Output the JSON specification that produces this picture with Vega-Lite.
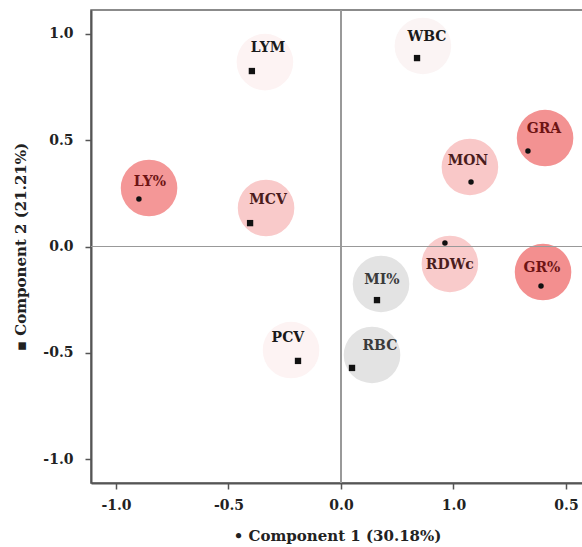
{
  "$schema": "https://vega.github.io/schema/vega-lite/v6.json",
  "width": 492,
  "height": 473,
  "autosize": {"type": "none"},
  "padding": {"left": 91, "top": 10, "right": 0, "bottom": 64},
  "background": "white",
  "config": {
    "view": {"stroke": "#666666", "strokeWidth": 1.5},
    "font": "DejaVu Serif",
    "axis": {
      "grid": false,
      "domainColor": "#555555",
      "domainWidth": 2,
      "tickColor": "#555555",
      "tickWidth": 1.5,
      "tickSize": 6,
      "labelFont": "DejaVu Serif",
      "labelFontWeight": "bold",
      "labelFontSize": 14,
      "labelColor": "#222222",
      "titleFont": "DejaVu Serif",
      "titleFontWeight": "bold",
      "titleFontSize": 15,
      "titleColor": "#222222"
    }
  },
  "data": {
    "values": [
      {"name": "LY%", "kind": "dot", "x": -0.898, "y": 0.223, "lx": -0.849, "ly": 0.303, "cx": -0.853, "cy": 0.275},
      {"name": "MCV", "kind": "square", "x": -0.404, "y": 0.110, "lx": -0.324, "ly": 0.219, "cx": -0.333, "cy": 0.181},
      {"name": "LYM", "kind": "square", "x": -0.396, "y": 0.825, "lx": -0.324, "ly": 0.933, "cx": -0.338, "cy": 0.867},
      {"name": "WBC", "kind": "square", "x": 0.338, "y": 0.886, "lx": 0.382, "ly": 0.985, "cx": 0.364, "cy": 0.943},
      {"name": "GRA", "kind": "dot", "x": 0.831, "y": 0.449, "lx": 0.902, "ly": 0.552, "cx": 0.907, "cy": 0.510},
      {"name": "MON", "kind": "dot", "x": 0.578, "y": 0.303, "lx": 0.564, "ly": 0.402, "cx": 0.573, "cy": 0.374},
      {"name": "RDWc", "kind": "dot", "x": 0.462, "y": 0.016, "lx": 0.484, "ly": -0.087, "cx": 0.484, "cy": -0.082},
      {"name": "GR%", "kind": "dot", "x": 0.889, "y": -0.186, "lx": 0.893, "ly": -0.101, "cx": 0.898, "cy": -0.120},
      {"name": "MI%", "kind": "square", "x": 0.160, "y": -0.252, "lx": 0.182, "ly": -0.157, "cx": 0.178, "cy": -0.176},
      {"name": "RBC", "kind": "square", "x": 0.049, "y": -0.571, "lx": 0.173, "ly": -0.468, "cx": 0.138, "cy": -0.510},
      {"name": "PCV", "kind": "square", "x": -0.191, "y": -0.538, "lx": -0.236, "ly": -0.430, "cx": -0.222, "cy": -0.487}
    ]
  },
  "layer": [
    {
      "mark": {"type": "circle", "size": 3200, "opacity": 1},
      "encoding": {
        "x": {
          "field": "cx", "type": "quantitative",
          "scale": {"domain": [-1.111, 1.0756], "nice": false, "zero": false},
          "axis": {
            "values": [-1, -0.5, 0, 0.5, 1],
            "labelExpr": "datum.value == -1 ? '-1.0' : datum.value == -0.5 ? '-0.5' : datum.value == 0 ? '0.0' : datum.value == 0.5 ? '1.0' : '0.5'",
            "labelPadding": 9,
            "title": "• Component 1 (30.18%)",
            "titlePadding": 16
          }
        },
        "y": {
          "field": "cy", "type": "quantitative",
          "scale": {"domain": [-1.112, 1.112], "nice": false, "zero": false},
          "axis": {
            "values": [-1, -0.5, 0, 0.5, 1],
            "labelExpr": "datum.value == -1 ? '-1.0' : datum.value == -0.5 ? '-0.5' : datum.value == 0 ? '0.0' : datum.value == 0.5 ? '0.5' : '1.0'",
            "labelPadding": 12,
            "title": "▪ Component 2 (21.21%)",
            "titlePadding": 14
          }
        },
        "color": {
          "field": "name", "type": "nominal", "legend": null,
          "scale": {
            "domain": ["LY%", "GRA", "GR%", "MCV", "MON", "RDWc", "LYM", "WBC", "PCV", "MI%", "RBC"],
            "range": ["#f49797", "#f39292", "#f38f8f", "#f9caca", "#f9c8c8", "#f9cbcb", "#fdf3f3", "#fbf4f4", "#fdf3f3", "#e3e3e3", "#e3e3e3"]
          }
        }
      }
    },
    {
      "mark": {"type": "rule", "color": "#999999", "strokeWidth": 1},
      "encoding": {"x": {"datum": 0, "type": "quantitative"}}
    },
    {
      "mark": {"type": "rule", "color": "#999999", "strokeWidth": 1},
      "encoding": {"y": {"datum": 0, "type": "quantitative"}}
    },
    {
      "mark": {"type": "point", "filled": true, "opacity": 1, "color": "#111111"},
      "encoding": {
        "x": {"field": "x", "type": "quantitative"},
        "y": {"field": "y", "type": "quantitative"},
        "shape": {
          "field": "kind", "type": "nominal", "legend": null,
          "scale": {"domain": ["square", "dot"], "range": ["square", "circle"]}
        },
        "size": {
          "field": "kind", "type": "nominal", "legend": null,
          "scale": {"domain": ["square", "dot"], "range": [40, 30]}
        }
      }
    },
    {
      "mark": {"type": "text", "font": "DejaVu Serif", "fontWeight": "bold", "fontSize": 14, "align": "center", "baseline": "middle"},
      "encoding": {
        "x": {"field": "lx", "type": "quantitative"},
        "y": {"field": "ly", "type": "quantitative"},
        "text": {"field": "name"},
        "color": {
          "field": "name", "type": "nominal", "legend": null,
          "scale": {
            "domain": ["LY%", "GRA", "GR%", "MCV", "MON", "RDWc", "LYM", "WBC", "PCV", "MI%", "RBC"],
            "range": ["#6e1414", "#6e1414", "#6e1414", "#4a1c1c", "#4a1c1c", "#4a1c1c", "#1a1a1a", "#1a1a1a", "#1a1a1a", "#3a3a3a", "#3a3a3a"]
          }
        }
      }
    }
  ],
  "resolve": {"scale": {"color": "independent"}}
}
